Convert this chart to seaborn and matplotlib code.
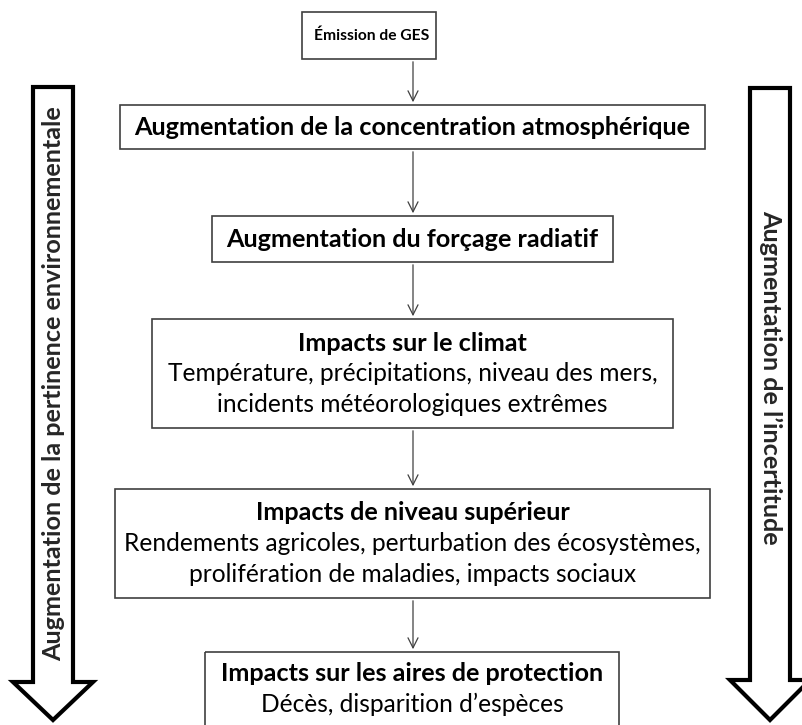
import matplotlib
matplotlib.use("Agg")
import matplotlib.pyplot as plt
import seaborn as sns
from matplotlib.patches import Rectangle, Polygon

sns.set_theme(style="white")
plt.rcParams["font.family"] = ["Lato", "DejaVu Sans"]

# contenu du schéma
titres = [
    "Émission de GES",
    "Augmentation de la concentration atmosphérique",
    "Augmentation du forçage radiatif",
    "Impacts sur le climat",
    "Impacts de niveau supérieur",
    "Impacts sur les aires de protection",
]
details = [
    [],
    [],
    [],
    ["Température, précipitations, niveau des mers,",
     "incidents météorologiques extrêmes"],
    ["Rendements agricoles, perturbation des écosystèmes,",
     "prolifération de maladies, impacts sociaux"],
    ["Décès, disparition d’espèces"],
]
fleche_gauche = "Augmentation de la pertinence environnementale"
fleche_droite = "Augmentation de l’incertitude"

# mise en page (pixels, y vers le bas)
boites = [
    (302, 436, 12, 59),
    (120, 705, 105, 149),
    (212, 613, 216, 262),
    (152, 673, 319, 428),
    (115, 710, 489, 598),
    (205, 619, 652, 740),
]
cx = 413
interligne = 30.5

fig = plt.figure(figsize=(8.02, 7.25), dpi=100)
ax = fig.add_axes([0, 0, 1, 1])
ax.set_xlim(0, 802)
ax.set_ylim(725, 0)
ax.axis("off")
rend = fig.canvas.get_renderer()


def taille_pour(txt, largeur, poids):
    t = ax.text(0, 0, txt, fontsize=10, fontweight=poids)
    w = t.get_window_extent(rend).width
    t.remove()
    return 10 * largeur / w


fs_gras = taille_pour(titres[1], 561, "bold")
fs_normal = taille_pour(details[5][0], 304, "normal")
fs_petit = taille_pour(titres[0], 116, "bold")

for i, (x0, x1, y0, y1) in enumerate(boites):
    ax.add_patch(Rectangle((x0, y0), x1 - x0, y1 - y0, fill=False,
                           edgecolor="#404040", lw=1.2))
    lignes = [(titres[i], "bold", fs_petit if i == 0 else fs_gras)]
    lignes += [(l, "normal", fs_normal) for l in details[i]]
    n = len(lignes)
    ymid = (y0 + y1) / 2 if i < 5 else 689
    ystart = ymid - (n - 1) * interligne / 2
    bx = (x0 + x1) / 2 + (3 if i == 0 else 0)
    for k, (txt, w, fs) in enumerate(lignes):
        ax.text(bx, ystart + k * interligne, txt, ha="center", va="center",
                fontsize=fs, fontweight=w, color="black")
    if i < 5:
        ax.annotate("", xy=(cx, boites[i + 1][2]), xytext=(cx, y1),
                    arrowprops=dict(arrowstyle="->", color="#404040",
                                    lw=0.9, mutation_scale=18))


def grosse_fleche(xc, haut, base, pointe, demi_tige=20, demi_tete=40):
    pts = [(xc - demi_tige, haut), (xc + demi_tige, haut),
           (xc + demi_tige, base), (xc + demi_tete, base),
           (xc, pointe), (xc - demi_tete, base),
           (xc - demi_tige, base)]
    ax.add_patch(Polygon(pts, closed=True, facecolor="white",
                         edgecolor="black", lw=3, joinstyle="miter"))


grosse_fleche(53, 87, 682, 720)
grosse_fleche(770, 88, 680, 720)

ax.text(54, 384, fleche_gauche, rotation=90, ha="center", va="center",
        fontsize=fs_gras, fontweight="bold")
ax.text(771, 210, fleche_droite, rotation=-90, ha="center", va="top",
        fontsize=fs_gras, fontweight="bold")

fig.savefig("out.png", dpi=100, facecolor="white")
